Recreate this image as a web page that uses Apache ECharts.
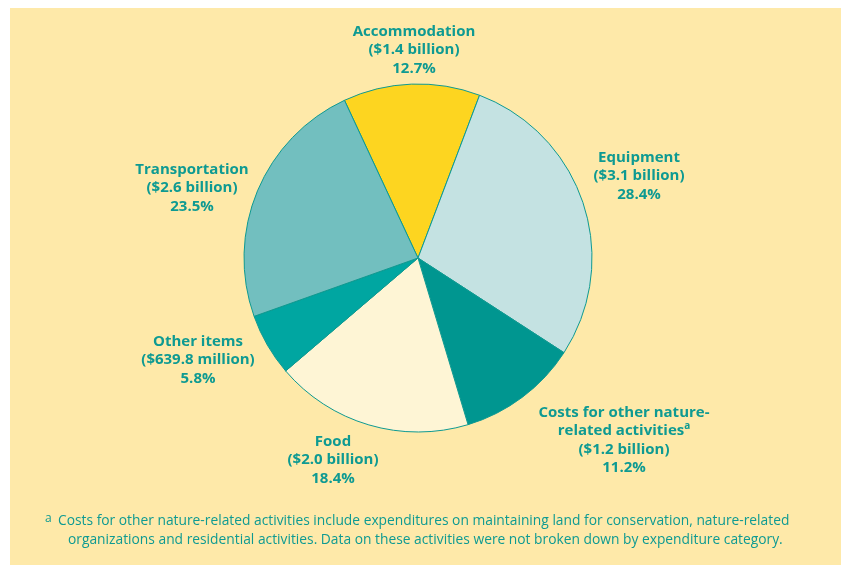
<!DOCTYPE html>
<html>
<head>
<meta charset="utf-8">
<script src="https://cdn.jsdelivr.net/npm/echarts@6/dist/echarts.min.js"></script>
<style>
html,body{margin:0;padding:0;background:#ffffff;}
#main{width:841px;height:565px;}
</style>
</head>
<body>
<div id="main"></div>
<script>
var categories = ['Accommodation', 'Equipment', 'Costs for other nature-related activities', 'Food', 'Other items', 'Transportation'];
var shares = [12.7, 28.4, 11.2, 18.4, 5.8, 23.5];
var amounts = ['$1.4 billion', '$3.1 billion', '$1.2 billion', '$2.0 billion', '$639.8 million', '$2.6 billion'];
var footnote = [
  'Costs for other nature-related activities include expenditures on maintaining land for conservation, nature-related',
  'organizations and residential activities. Data on these activities were not broken down by expenditure category.'
];

var colors = ['#FDD520', '#C4E2E2', '#009690', '#FEF5D5', '#00A6A1', '#72BFBF'];
var textColor = '#0E9A92';
var font = '"Open Sans", sans-serif';
var labelPos = [[414, 50], [639, 176], [624, 440], [333, 460], [198, 360], [192, 188]];

var chart = echarts.init(document.getElementById('main'), null, {renderer: 'canvas'});
var data = categories.map(function (c, i) {
  return {name: c, value: shares[i], itemStyle: {color: colors[i]}};
});
chart.setOption({
  backgroundColor: '#ffffff',
  animation: false,
  graphic: [
    {type: 'rect', shape: {x: 10, y: 8, width: 831, height: 557}, style: {fill: '#FEE9A9'}, z: -10},
    {type: 'text', x: 45, y: 513, style: {text: 'a', font: '12px ' + font, fill: textColor}},
    {type: 'text', x: 58, y: 514, style: {text: footnote[0], font: '13.8px ' + font, fill: textColor}},
    {type: 'text', x: 68, y: 533, style: {text: footnote[1], font: '13.8px ' + font, fill: textColor}}
  ],
  series: [{
    type: 'pie',
    center: [418, 258],
    radius: 174,
    startAngle: 115,
    clockwise: true,
    data: data,
    itemStyle: {borderColor: textColor, borderWidth: 1},
    emphasis: {disabled: true},
    labelLine: {show: false},
    label: {
      show: true,
      position: 'outside',
      color: textColor,
      fontFamily: font,
      fontWeight: 'bold',
      fontSize: 15,
      lineHeight: 18.5,
      align: 'center',
      formatter: function (p) {
        var i = p.dataIndex;
        var nm = p.name;
        if (i === 2) nm = 'Costs for other nature-\nrelated activities{sup|a}';
        return nm + '\n(' + amounts[i] + ')\n' + shares[i].toFixed(1) + '%';
      },
      rich: {
        sup: {fontSize: 10, fontWeight: 'bold', color: textColor, fontFamily: font, verticalAlign: 'top', lineHeight: 18.5, padding: [0, 0, 8, 0]}
      }
    },
    labelLayout: function (params) {
      var p = labelPos[params.dataIndex];
      return {x: p[0], y: p[1], align: 'center', verticalAlign: 'middle', hideOverlap: false};
    }
  }]
});
</script>
</body>
</html>
